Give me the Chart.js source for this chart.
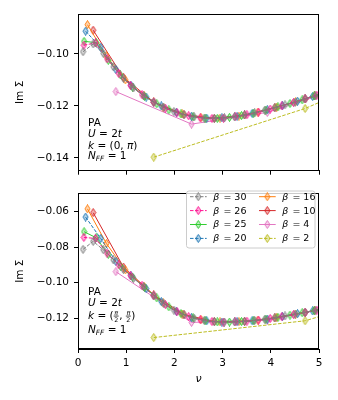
<!DOCTYPE html>
<html>
<head>
<meta charset="utf-8">
<script src="https://cdn.jsdelivr.net/npm/chart.js@4.4.1/dist/chart.umd.min.js"></script>
<style>
  html, body { margin: 0; padding: 0; background: #fff; }
  #wrap { position: relative; width: 338px; height: 400px; }
  canvas { position: absolute; left: 0; }
  #top { top: 0; }
  #bot { top: 182px; }
</style>
</head>
<body>
<div id="wrap">
  <canvas id="top" width="338" height="182"></canvas>
  <canvas id="bot" width="338" height="218"></canvas>
</div>
<script>
// inverse temperatures, legend order
const betas = [30, 26, 25, 20, 16, 10, 4, 2];

// Matsubara frequencies per beta
const nuB30 = [0.105, 0.314, 0.524, 0.733, 0.942, 1.152, 1.361, 1.571, 1.780, 1.990, 2.199, 2.409, 2.618, 2.827, 3.037, 3.246, 3.456, 3.665, 3.875, 4.084, 4.294, 4.503, 4.712, 4.922, 5.131];
const nuB26 = [0.121, 0.362, 0.604, 0.846, 1.087, 1.329, 1.571, 1.812, 2.054, 2.296, 2.537, 2.779, 3.021, 3.262, 3.504, 3.746, 3.987, 4.229, 4.471, 4.712, 4.954, 5.195];
const nuB25 = [0.126, 0.377, 0.628, 0.880, 1.131, 1.382, 1.634, 1.885, 2.136, 2.388, 2.639, 2.890, 3.142, 3.393, 3.644, 3.896, 4.147, 4.398, 4.650, 4.901, 5.152];
const nuB20 = [0.157, 0.471, 0.785, 1.100, 1.414, 1.728, 2.042, 2.356, 2.670, 2.985, 3.299, 3.613, 3.927, 4.241, 4.555, 4.869, 5.184];
const nuB16 = [0.196, 0.589, 0.982, 1.374, 1.767, 2.160, 2.553, 2.945, 3.338, 3.731, 4.123, 4.516, 4.909, 5.301];
const nuB10 = [0.314, 0.942, 1.571, 2.199, 2.827, 3.456, 4.084, 4.712, 5.341];
const nuB4 = [0.785, 2.356, 3.927, 5.498];
const nuB2 = [1.571, 4.712, 7.854];

// Im Sigma, k = (0, pi)
const imTopB30 = [-0.0992, -0.0962, -0.0998, -0.1050, -0.1094, -0.1131, -0.1161, -0.1186, -0.1206, -0.1222, -0.1234, -0.1242, -0.1247, -0.1248, -0.1246, -0.1242, -0.1235, -0.1227, -0.1217, -0.1207, -0.1196, -0.1186, -0.1173, -0.1161, -0.1148];
const imTopB26 = [-0.0967, -0.0958, -0.1019, -0.1075, -0.1121, -0.1157, -0.1186, -0.1209, -0.1226, -0.1238, -0.1246, -0.1248, -0.1247, -0.1241, -0.1234, -0.1224, -0.1212, -0.1200, -0.1187, -0.1173, -0.1159, -0.1144];
const imTopB25 = [-0.0952, -0.0957, -0.1025, -0.1081, -0.1128, -0.1164, -0.1192, -0.1215, -0.1231, -0.1242, -0.1247, -0.1248, -0.1244, -0.1237, -0.1228, -0.1216, -0.1204, -0.1191, -0.1177, -0.1162, -0.1147];
const imTopB20 = [-0.0913, -0.0975, -0.1060, -0.1121, -0.1166, -0.1200, -0.1225, -0.1240, -0.1247, -0.1246, -0.1240, -0.1229, -0.1215, -0.1199, -0.1182, -0.1164, -0.1145];
const imTopB16 = [-0.0888, -0.1008, -0.1100, -0.1162, -0.1205, -0.1231, -0.1245, -0.1247, -0.1239, -0.1224, -0.1205, -0.1184, -0.1161, -0.1138];
const imTopB10 = [-0.0909, -0.1090, -0.1185, -0.1233, -0.1248, -0.1235, -0.1207, -0.1173, -0.1135];
const imTopB4 = [-0.1145, -0.1270, -0.1225, -0.1130];
const imTopB2 = [-0.1397, -0.1210, -0.0960];

// Im Sigma, k = (pi/2, pi/2)
const imBotB30 = [-0.0813, -0.0768, -0.0815, -0.0872, -0.0926, -0.0975, -0.1022, -0.1073, -0.1117, -0.1153, -0.1180, -0.1199, -0.1211, -0.1218, -0.1220, -0.1219, -0.1216, -0.1211, -0.1205, -0.1197, -0.1186, -0.1176, -0.1166, -0.1155, -0.1145];
const imBotB26 = [-0.0746, -0.0752, -0.0834, -0.0899, -0.0958, -0.1014, -0.1073, -0.1122, -0.1162, -0.1190, -0.1207, -0.1217, -0.1220, -0.1219, -0.1215, -0.1209, -0.1200, -0.1190, -0.1178, -0.1166, -0.1153, -0.1141];
const imBotB25 = [-0.0714, -0.0748, -0.0841, -0.0908, -0.0968, -0.1026, -0.1085, -0.1135, -0.1172, -0.1197, -0.1212, -0.1219, -0.1220, -0.1217, -0.1212, -0.1204, -0.1193, -0.1181, -0.1168, -0.1156, -0.1143];
const imBotB20 = [-0.0632, -0.0752, -0.0880, -0.0962, -0.1033, -0.1105, -0.1160, -0.1195, -0.1213, -0.1220, -0.1218, -0.1213, -0.1203, -0.1189, -0.1173, -0.1158, -0.1142];
const imBotB16 = [-0.0586, -0.0780, -0.0928, -0.1022, -0.1112, -0.1175, -0.1206, -0.1219, -0.1218, -0.1209, -0.1194, -0.1175, -0.1155, -0.1136];
const imBotB10 = [-0.0607, -0.0912, -0.1068, -0.1178, -0.1217, -0.1216, -0.1197, -0.1166, -0.1133];
const imBotB4 = [-0.0938, -0.1222, -0.1210, -0.1125];
const imBotB2 = [-0.1307, -0.1213, -0.0960];

const xTicks = [0, 1, 2, 3, 4, 5];
const yTicksTop = [-0.14, -0.12, -0.10];
const yTicksBot = [-0.12, -0.10, -0.08, -0.06];

const nuSets = [nuB30, nuB26, nuB25, nuB20, nuB16, nuB10, nuB4, nuB2];
const topSets = [imTopB30, imTopB26, imTopB25, imTopB20, imTopB16, imTopB10, imTopB4, imTopB2];
const botSets = [imBotB30, imBotB26, imBotB25, imBotB20, imBotB16, imBotB10, imBotB4, imBotB2];

const colors = ["#7f7f7f", "#ff1493", "#32cd32", "#1f77b4", "#ff7f0e", "#d62728", "#e377c2", "#bcbd22"];
const dashed = [true, true, false, true, false, false, false, true];
const FONT = "DejaVu Sans";

Chart.defaults.font.family = FONT;
Chart.defaults.font.size = 10.5;
Chart.defaults.color = "#000";

// thin diamond marker, like matplotlib "d"
function makeDiamond(color) {
  const c = document.createElement("canvas");
  c.width = 7;
  c.height = 9;
  const g = c.getContext("2d");
  g.beginPath();
  g.moveTo(3.5, 0.5);
  g.lineTo(6, 4.5);
  g.lineTo(3.5, 8.5);
  g.lineTo(1, 4.5);
  g.closePath();
  g.globalAlpha = 0.3;
  g.fillStyle = color;
  g.fill();
  g.globalAlpha = 1;
  g.strokeStyle = color;
  g.lineWidth = 1;
  g.stroke();
  return c;
}
const diamonds = colors.map(makeDiamond);

function makeDatasets(ySets) {
  return betas.map((b, i) => ({
    label: "β = " + b,
    data: nuSets[i].map((x, j) => ({ x: x, y: ySets[i][j] })),
    borderColor: colors[i],
    backgroundColor: colors[i],
    borderWidth: 1,
    borderDash: dashed[i] ? [3.5, 1.5] : [],
    pointStyle: diamonds[i],
    pointRadius: 3.5,
    tension: 0,
    clip: 0,
  }));
}

function fmtTick(v) {
  return (v < 0 ? "\u2212" : "") + Math.abs(v).toFixed(2);
}

// draws a line of mixed roman / italic / subscript runs
function drawRuns(ctx, x, y, runs, size) {
  ctx.textBaseline = "alphabetic";
  ctx.textAlign = "left";
  for (const r of runs) {
    const s = r.sub ? size * 0.7 : (r.small ? size * 0.6 : size);
    ctx.font = (r.it ? "italic " : "") + s + "px '" + FONT + "'";
    if (r.frac) {
      const w = Math.max(ctx.measureText(r.num).width, ctx.measureText(r.den).width) + 1;
      ctx.font = "italic " + s + "px '" + FONT + "'";
      ctx.fillText(r.num, x + (w - ctx.measureText(r.num).width) / 2, y - 3.6);
      ctx.font = s + "px '" + FONT + "'";
      ctx.fillText(r.den, x + (w - ctx.measureText(r.den).width) / 2, y + 3.4);
      ctx.fillRect(x, y - 2.8, w, 0.7);
      x += w + 0.5;
      continue;
    }
    ctx.fillText(r.t, x, y + (r.sub ? 2 : 0));
    x += ctx.measureText(r.t).width;
  }
}

function frame(chart) {
  const a = chart.chartArea;
  const ctx = chart.ctx;
  ctx.save();
  ctx.strokeStyle = "#000";
  ctx.lineWidth = 1;
  ctx.strokeRect(Math.round(a.left) + 0.5, Math.round(a.top) + 0.5,
    Math.round(a.right - a.left) - 1, Math.round(a.bottom - a.top) - 1);
  ctx.restore();
}

const topNotes = {
  id: "topNotes",
  afterDraw(chart) {
    frame(chart);
    const ctx = chart.ctx;
    ctx.save();
    ctx.fillStyle = "#000";
    const x = 88;
    drawRuns(ctx, x, 125.5, [{ t: "PA" }], 10.5);
    drawRuns(ctx, x, 137, [{ t: "U", it: 1 }, { t: " = 2" }, { t: "t", it: 1 }], 10.5);
    drawRuns(ctx, x, 148.5, [{ t: "k", it: 1 }, { t: " = (0, " }, { t: "π", it: 1 }, { t: ")" }], 10.5);
    drawRuns(ctx, x, 159, [{ t: "N", it: 1 }, { t: "FF", it: 1, sub: 1 }, { t: " = 1" }], 10.5);
    ctx.restore();
  },
};

const botNotes = {
  id: "botNotes",
  afterDraw(chart) {
    frame(chart);
    const ctx = chart.ctx;
    ctx.save();
    ctx.fillStyle = "#000";
    const x = 88;
    drawRuns(ctx, x, 113, [{ t: "PA" }], 10.5);
    drawRuns(ctx, x, 124, [{ t: "U", it: 1 }, { t: " = 2" }, { t: "t", it: 1 }], 10.5);
    drawRuns(ctx, x, 136.5, [{ t: "k", it: 1 }, { t: " = (" }, { frac: 1, small: 1, num: "π", den: "2" },
      { t: ", " }, { frac: 1, small: 1, num: "π", den: "2" }, { t: ")" }], 10.5);
    drawRuns(ctx, x, 150.5, [{ t: "N", it: 1 }, { t: "FF", it: 1, sub: 1 }, { t: " = 1" }], 10.5);

    // legend, two columns
    const bx = 186.5, by = 9, bw = 128.5, bh = 57;
    ctx.beginPath();
    ctx.roundRect(bx, by, bw, bh, 2.5);
    ctx.fillStyle = "rgba(255,255,255,0.8)";
    ctx.fill();
    ctx.strokeStyle = "#cccccc";
    ctx.lineWidth = 1;
    ctx.stroke();
    const colX = [190, 259];
    betas.forEach((b, i) => {
      const cx = colX[Math.floor(i / 4)];
      const cy = 14.7 + (i % 4) * 13.9;
      ctx.save();
      ctx.strokeStyle = colors[i];
      ctx.lineWidth = 1;
      ctx.setLineDash(dashed[i] ? [3.5, 1.5] : []);
      ctx.beginPath();
      ctx.moveTo(cx, cy);
      ctx.lineTo(cx + 16.7, cy);
      ctx.stroke();
      ctx.restore();
      ctx.drawImage(diamonds[i], cx + 8.3 - 3.5, cy - 4.5);
      ctx.fillStyle = "#000";
      ctx.textBaseline = "middle";
      ctx.font = "italic 9.5px '" + FONT + "'";
      ctx.fillText("β", cx + 23.3, cy + 0.5);
      const w = ctx.measureText("β").width;
      ctx.font = "9.5px '" + FONT + "'";
      ctx.fillText(" = " + b, cx + 23.3 + w + 1, cy + 0.5);
    });
    ctx.restore();
  },
};

function axisX(showLabels, height) {
  return {
    type: "linear",
    min: 0,
    max: 5,
    afterBuildTicks: (s) => { s.ticks = xTicks.map((v) => ({ value: v })); },
    afterFit: (s) => { s.height = height; },
    grid: { drawOnChartArea: false, drawTicks: true, tickLength: 4, color: "#000" },
    border: { display: true, color: "#000" },
    ticks: { display: showLabels, padding: 4, font: { size: 10.5 } },
    title: {
      display: showLabels,
      text: "ν",
      font: { size: 11, style: "italic" },
      padding: { top: 0, bottom: 14 },
    },
  };
}

function axisY(min, max, ticks) {
  return {
    type: "linear",
    min: min,
    max: max,
    afterBuildTicks: (s) => { s.ticks = ticks.map((v) => ({ value: v })); },
    afterFit: (s) => { s.width = 78; },
    grid: { drawOnChartArea: false, drawTicks: true, tickLength: 4, color: "#000" },
    border: { display: true, color: "#000" },
    ticks: { padding: 5, callback: fmtTick, font: { size: 10.5 } },
    title: {
      display: true,
      text: "Im Σ",
      font: { size: 10.5 },
      padding: { top: 13.7, bottom: 0 },
    },
  };
}

function baseOptions(xAxis, yAxis, padTop) {
  return {
    responsive: false,
    animation: false,
    layout: { padding: { top: padTop, right: 19, left: 0, bottom: 0 } },
    plugins: { legend: { display: false }, tooltip: { enabled: false } },
    scales: { x: xAxis, y: yAxis },
  };
}

new Chart(document.getElementById("top"), {
  type: "line",
  data: { datasets: makeDatasets(topSets) },
  options: baseOptions(axisX(false, 4), axisY(-0.1449, -0.0847, yTicksTop), 14),
  plugins: [topNotes],
});

new Chart(document.getElementById("bot"), {
  type: "line",
  data: { datasets: makeDatasets(botSets) },
  options: baseOptions(axisX(true, 51), axisY(-0.1371, -0.0499, yTicksBot), 4),
  plugins: [botNotes],
});
</script>
</body>
</html>
